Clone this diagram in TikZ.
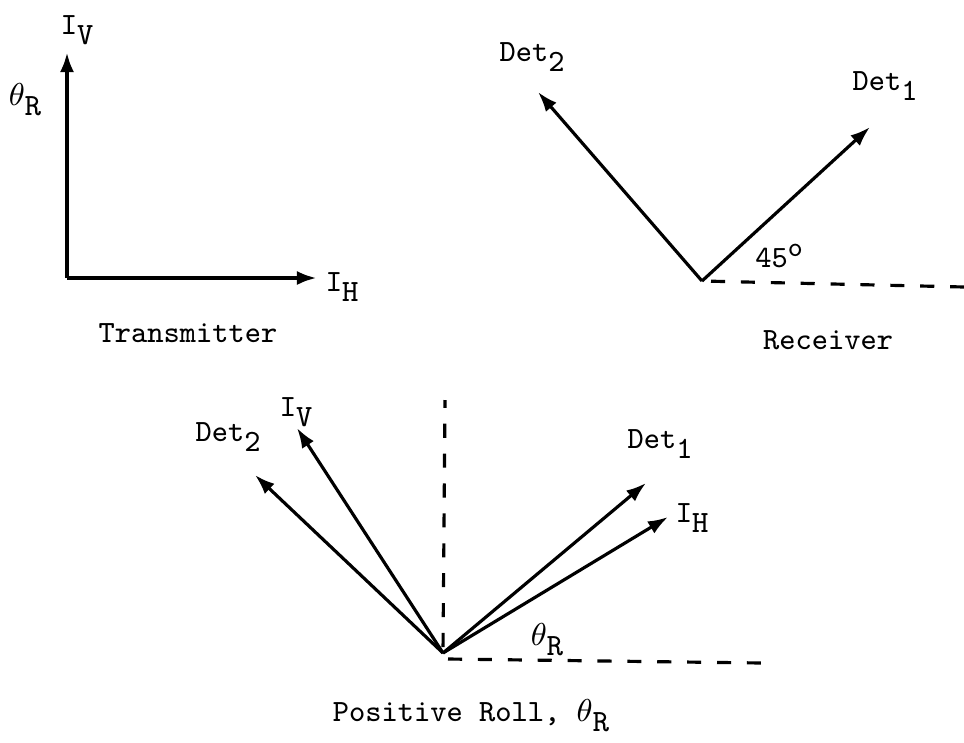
\documentclass[tikz,border=0pt]{standalone}
\usepackage{tikz}
\usetikzlibrary{arrows.meta,positioning}
\newcommand{\lowr}[1]{\raisebox{-0.75ex}{#1}}
\tikzset{
  lbl/.style={font=\fontsize{8.8}{10}\selectfont\ttfamily, inner sep=1pt},
  arrow/.style={-{Latex[length=2mm,width=1.4mm]}, line width=0.9pt},
  thickarrow/.style={arrow, line width=1.2pt},
  dashline/.style={line width=0.9pt, dash pattern=on 4pt off 4.5pt}
}

\begin{document}
\begin{tikzpicture}[x=0.01cm, y=-0.01cm]
  \useasboundingbox (0,0) rectangle (964,742);
  % transmitter
  \coordinate (t0) at (67,278);
  \coordinate (tv) at (67,52);
  \coordinate (th) at (317,278);
  \draw[thickarrow] (t0) -- (tv);
  \draw[thickarrow] (t0) -- (th);
  \node[lbl] (tvl) at (77,30) {I\lowr{V}};
  \node[lbl] (trl) at (25,100) {$\theta$\lowr{R}};
  \node[lbl] (thl) at (342,287) {I\lowr{H}};
  \node[lbl] (ttx) at (188,333) {Transmitter};

  % receiver
  \coordinate (r0) at (702,281);
  \coordinate (rd2) at (538,92);
  \coordinate (rd1) at (870,127);
  \coordinate (rend) at (964,287);
  \draw[arrow] (r0) -- (rd2);
  \draw[arrow] (r0) -- (rd1);
  \draw[dashline, shorten <=0.9mm] (r0) -- (rend);
  \node[lbl] (rd2l) at (532,57) {Det\lowr{2}};
  \node[lbl] (rd1l) at (885,86) {Det\lowr{1}};
  \node[lbl] (r45) at (779,256) {45\raisebox{0.8ex}{\footnotesize o}};
  \node[lbl] (rtx) at (828,340) {Receiver};

  % positive roll
  \coordinate (b0) at (443,653);
  \coordinate (bvtop) at (445,400);
  \coordinate (bh0) at (448,659);
  \coordinate (bend) at (762,663);
  \coordinate (bd2) at (255,475);
  \coordinate (bv) at (297,428);
  \coordinate (bd1) at (646,483);
  \coordinate (bh) at (668,517);
  \draw[dashline, shorten <=0.6mm] (b0) -- (bvtop);
  \draw[dashline] (bh0) -- (bend);
  \draw[arrow] (b0) -- (bd2);
  \draw[arrow] (b0) -- (bv);
  \draw[arrow] (b0) -- (bd1);
  \draw[arrow] (b0) -- (bh);
  \node[lbl] (bd2l) at (228,437) {Det\lowr{2}};
  \node[lbl] (bvl) at (296,412) {I\lowr{V}};
  \node[lbl] (bd1l) at (660,444) {Det\lowr{1}};
  \node[lbl] (bhl) at (692,518) {I\lowr{H}};
  \node[lbl] (btl) at (547,640) {$\theta$\lowr{R}};
  \node[lbl] (btx) at (471,716) {Positive Roll, $\theta$\lowr{R}};
\end{tikzpicture}
\end{document}
